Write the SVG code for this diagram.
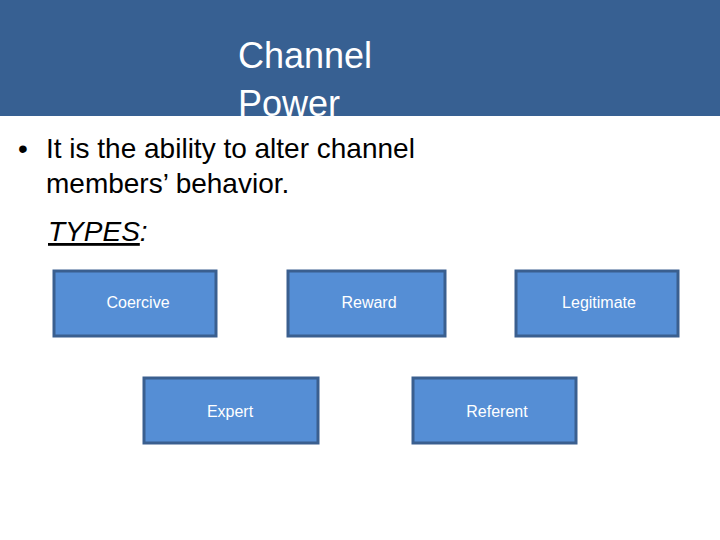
<svg xmlns="http://www.w3.org/2000/svg" width="720" height="540" viewBox="0 0 720 540">
<style>
.box{fill:#558ed5;stroke:#3a5f8f;stroke-width:3}
.lbl{font-family:"Liberation Sans",Arial,sans-serif;font-size:16px;fill:#ffffff;text-anchor:middle}
.body{font-family:"Liberation Sans",Arial,sans-serif;font-size:28px;fill:#000}
</style>
<defs><clipPath id="hc"><rect x="0" y="0" width="720" height="116"/></clipPath></defs>
<rect width="720" height="540" fill="#fff"/>
<g id="header">
<rect x="0" y="0" width="720" height="116" fill="#376092"/>
<g clip-path="url(#hc)" font-family="Liberation Sans,Arial,sans-serif" font-size="36" fill="#fff">
<text x="238" y="68">Channel</text>
<text x="238" y="116">Power</text>
</g>
</g>
<g id="bullet">
<text class="body" x="18" y="158">•</text>
<text class="body" x="46" y="158">It is the ability to alter channel</text>
<text class="body" x="46" y="193">members’  behavior.</text>
<text class="body" x="48" y="241" font-style="italic"><tspan text-decoration="underline">TYPES</tspan>:</text>
</g>
<g id="connectors"></g>
<g id="coercive"><rect class="box" x="54" y="271" width="162" height="65"/><text class="lbl" x="138" y="308">Coercive</text></g>
<g id="reward"><rect class="box" x="288" y="271" width="157" height="65"/><text class="lbl" x="369" y="308">Reward</text></g>
<g id="legitimate"><rect class="box" x="516" y="271" width="162" height="65"/><text class="lbl" x="599" y="308">Legitimate</text></g>
<g id="expert"><rect class="box" x="144" y="378" width="174" height="65"/><text class="lbl" x="230" y="417">Expert</text></g>
<g id="referent"><rect class="box" x="413" y="378" width="163" height="65"/><text class="lbl" x="497" y="417">Referent</text></g>
</svg>
